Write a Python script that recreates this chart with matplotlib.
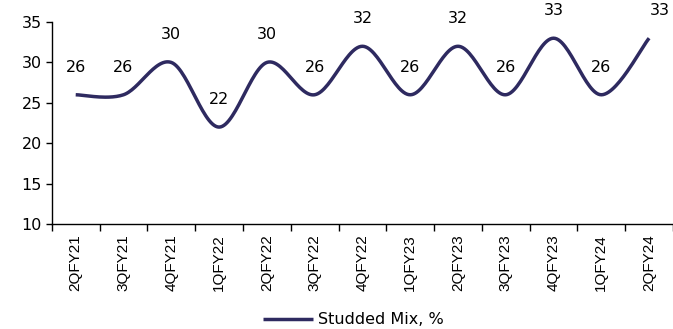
import numpy as np
import matplotlib.pyplot as plt

quarters = ['2QFY21', '3QFY21', '4QFY21', '1QFY22', '2QFY22', '3QFY22', '4QFY22',
            '1QFY23', '2QFY23', '3QFY23', '4QFY23', '1QFY24', '2QFY24']
studded_mix = [26, 26, 30, 22, 30, 26, 32, 26, 32, 26, 33, 26, 33]

LINE_COLOR = '#2E2A60'


def smooth(xs, ys, steps=30):
    # Catmull-Rom curve through every point (end points repeated)
    xs = np.asarray(xs, float)
    ys = np.asarray(ys, float)
    px = np.concatenate([[xs[0]], xs, [xs[-1]]])
    py = np.concatenate([[ys[0]], ys, [ys[-1]]])
    out_x, out_y = [], []
    t = np.linspace(0, 1, steps)
    h00 = 2 * t**3 - 3 * t**2 + 1
    h10 = t**3 - 2 * t**2 + t
    h01 = -2 * t**3 + 3 * t**2
    h11 = t**3 - t**2
    for i in range(1, len(px) - 2):
        mx0 = (px[i + 1] - px[i - 1]) / 2
        mx1 = (px[i + 2] - px[i]) / 2
        my0 = (py[i + 1] - py[i - 1]) / 2
        my1 = (py[i + 2] - py[i]) / 2
        out_x.append(h00 * px[i] + h10 * mx0 + h01 * px[i + 1] + h11 * mx1)
        out_y.append(h00 * py[i] + h10 * my0 + h01 * py[i + 1] + h11 * my1)
    return np.concatenate(out_x), np.concatenate(out_y)


fig = plt.figure(figsize=(6.73, 3.29), dpi=100)
ax = fig.add_axes([0.077, 0.319, 0.923, 0.614])

x = np.arange(len(quarters))
sx, sy = smooth(x, studded_mix)
line, = ax.plot(sx, sy, color=LINE_COLOR, lw=2.5, solid_capstyle='butt',
                clip_on=False, label='Studded Mix, %')

for i, v in enumerate(studded_mix):
    dx = 8 if i == len(studded_mix) - 1 else 0
    ax.annotate(f'{v}', (i, v), xytext=(dx, 19.8), textcoords='offset points',
                ha='center', va='center', fontsize=11.5, color='black',
                annotation_clip=False)

ax.set_xlim(-0.5, len(quarters) - 0.5)
ax.set_ylim(10, 35)
ax.set_yticks(range(10, 36, 5))
ax.tick_params(axis='y', labelsize=11.5, length=4, width=1, pad=3)

ax.set_xticks(x)
ax.set_xticklabels(quarters, rotation=90, fontsize=11, family='Liberation Sans')
ax.set_xticks(np.arange(-0.5, len(quarters), 1), minor=True)
ax.tick_params(axis='x', which='major', length=0, pad=7)
ax.tick_params(axis='x', which='minor', length=5, width=1)

for side in ['top', 'right']:
    ax.spines[side].set_visible(False)
for side in ['left', 'bottom']:
    ax.spines[side].set_linewidth(1)
    ax.spines[side].set_color('black')

fig.legend(handles=[line], loc='center', bbox_to_anchor=(0.525, 0.028),
           frameon=False, fontsize=11.5, handlelength=3.1, handletextpad=0.3,
           borderpad=0.1)

fig.savefig('out.png', dpi=100)
